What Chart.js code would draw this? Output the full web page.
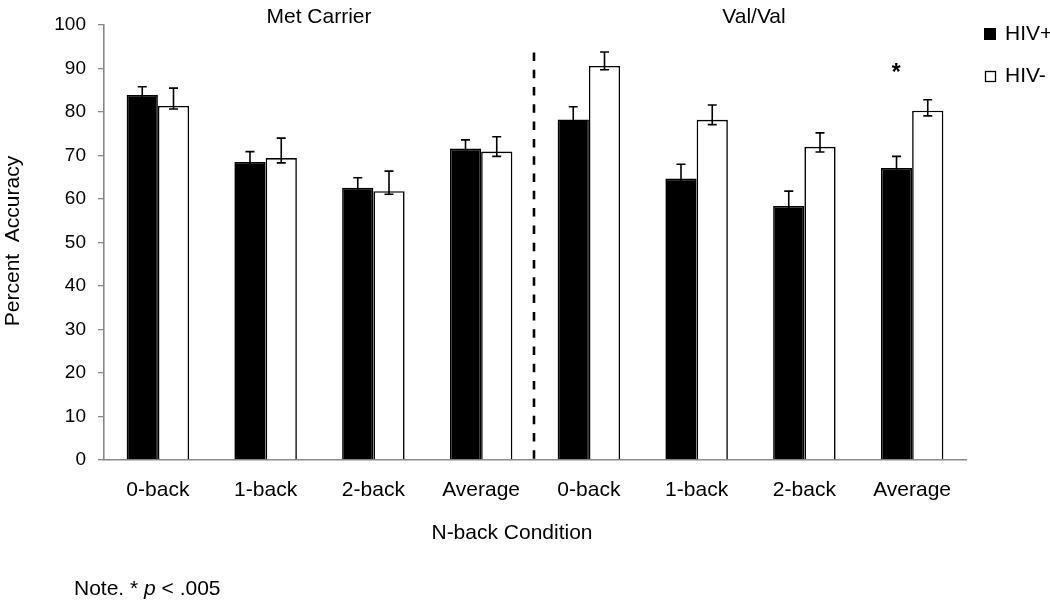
<!DOCTYPE html>
<html>
<head>
<meta charset="utf-8">
<script src="https://cdn.jsdelivr.net/npm/chart.js@4"></script>
<style>
  html, body { margin: 0; padding: 0; background: #fff; }
  #wrap { width: 1050px; height: 600px; position: relative; }
</style>
</head>
<body>
<div id="wrap"><canvas id="barChart" width="1050" height="600"></canvas></div>
<script>
// categories: first four = Met Carrier, last four = Val/Val
var categories = ['0-back', '1-back', '2-back', 'Average', '0-back', '1-back', '2-back', 'Average'];
var groupTitles = ['Met Carrier', 'Val/Val'];
var hivPos = [83.9, 68.5, 62.6, 71.6, 78.3, 64.7, 58.4, 67.1];
var hivNeg = [81.4, 69.4, 61.8, 70.9, 90.6, 78.2, 72.0, 80.3];
var hivPosErr = [1.9, 2.4, 2.3, 2.0, 2.9, 3.3, 3.4, 2.7];
var hivNegErrUp = [4.1, 4.6, 4.6, 3.4, 3.2, 3.4, 3.2, 2.5];
var hivNegErrDown = [0.7, 1.1, 0.7, 1.1, 0.9, 1.1, 1.2, 1.2];
var yTicks = [0, 10, 20, 30, 40, 50, 60, 70, 80, 90, 100];
var significant = [7]; // index of category marked with *

var FONT = '"Liberation Sans", Arial, sans-serif';

// error bars, divider, titles, legend and note
var extras = {
    id: 'extras',
    afterDatasetsDraw: function (chart) {
        var ctx = chart.ctx;
        var y = chart.scales.y;
        var x = chart.scales.x;
        var area = chart.chartArea;

        ctx.save();
        ctx.strokeStyle = '#000';
        ctx.lineWidth = 1.6;
        function errBar(cx, top, bottom) {
            ctx.beginPath();
            ctx.moveTo(cx, top); ctx.lineTo(cx, bottom);
            ctx.moveTo(cx - 4.5, top); ctx.lineTo(cx + 4.5, top);
            ctx.moveTo(cx - 4.5, bottom); ctx.lineTo(cx + 4.5, bottom);
            ctx.stroke();
        }
        chart.getDatasetMeta(0).data.forEach(function (bar, i) {
            errBar(bar.x, y.getPixelForValue(hivPos[i] + hivPosErr[i]), y.getPixelForValue(hivPos[i] - hivPosErr[i]));
        });
        chart.getDatasetMeta(1).data.forEach(function (bar, i) {
            errBar(bar.x, y.getPixelForValue(hivNeg[i] + hivNegErrUp[i]), y.getPixelForValue(hivNeg[i] - hivNegErrDown[i]));
        });

        // dashed divider between the two groups
        var divX = (x.getPixelForValue(3) + x.getPixelForValue(4)) / 2 - 1;
        ctx.lineWidth = 2.6;
        ctx.setLineDash([8.5, 8.8]);
        ctx.beginPath();
        ctx.moveTo(divX, y.getPixelForValue(93.7));
        ctx.lineTo(divX, area.bottom);
        ctx.stroke();
        ctx.setLineDash([]);

        // group titles
        ctx.fillStyle = '#000';
        ctx.font = '21px ' + FONT;
        ctx.textAlign = 'center';
        ctx.textBaseline = 'middle';
        ctx.fillText(groupTitles[0], 319, 17);
        ctx.fillText(groupTitles[1], 754, 17);

        // significance marks
        ctx.font = 'bold 23px ' + FONT;
        significant.forEach(function (i) {
            ctx.fillText('*', x.getPixelForValue(i) - 16, 74);
        });

        // legend
        ctx.font = '21px ' + FONT;
        ctx.textAlign = 'left';
        ctx.fillRect(984, 28, 12, 12);
        ctx.fillText('HIV+', 1005, 34);
        ctx.lineWidth = 1.3;
        ctx.strokeRect(985.5, 71.5, 10, 10);
        ctx.fillText('HIV-', 1005, 76);

        // y title
        ctx.save();
        ctx.translate(13, 241);
        ctx.rotate(-Math.PI / 2);
        ctx.textAlign = 'center';
        ctx.fillText('Percent  Accuracy', 0, 0);
        ctx.restore();

        // x title
        ctx.textAlign = 'center';
        ctx.fillText('N-back Condition', 512, 533);

        // note
        ctx.textAlign = 'left';
        var nx = 74, ny = 589;
        ctx.fillText('Note. * ', nx, ny);
        nx += ctx.measureText('Note. * ').width;
        ctx.font = 'italic 21px ' + FONT;
        ctx.fillText('p', nx, ny);
        nx += ctx.measureText('p').width;
        ctx.font = '21px ' + FONT;
        ctx.fillText(' < .005', nx, ny);
        ctx.restore();
    }
};

var barChart = new Chart(document.getElementById('barChart').getContext('2d'), {
    type: 'bar',
    data: {
        labels: categories,
        datasets: [{
            label: 'HIV+',
            data: hivPos,
            backgroundColor: '#000',
            borderColor: '#000',
            borderWidth: 1.6
        },
        {
            label: 'HIV-',
            data: hivNeg,
            backgroundColor: '#fff',
            borderColor: '#000',
            borderWidth: 1.6
        }]
    },
    options: {
        responsive: false,
        animation: false,
        events: [],
        layout: { padding: { top: 25, right: 84, left: 0, bottom: 0 } },
        datasets: { bar: { categoryPercentage: 0.58, barPercentage: 1.0 } },
        plugins: { legend: { display: false }, tooltip: { enabled: false } },
        scales: {
            x: {
                grid: { display: false, drawTicks: false },
                border: { color: '#898989', width: 1.6 },
                ticks: { color: '#000', font: { family: FONT, size: 21 }, padding: 18, maxRotation: 0 },
                afterFit: function (s) { s.height = 140; }
            },
            y: {
                min: 0,
                max: 100,
                afterBuildTicks: function (s) { s.ticks = yTicks.map(function (v) { return { value: v }; }); },
                grid: { drawOnChartArea: false, drawTicks: true, tickLength: 6, color: '#898989', lineWidth: 1.3 },
                border: { color: '#898989', width: 1.6 },
                ticks: { color: '#000', font: { family: FONT, size: 19 }, padding: 12 },
                afterFit: function (s) { s.width = 104; }
            }
        }
    },
    plugins: [extras]
});
</script>
</body>
</html>
